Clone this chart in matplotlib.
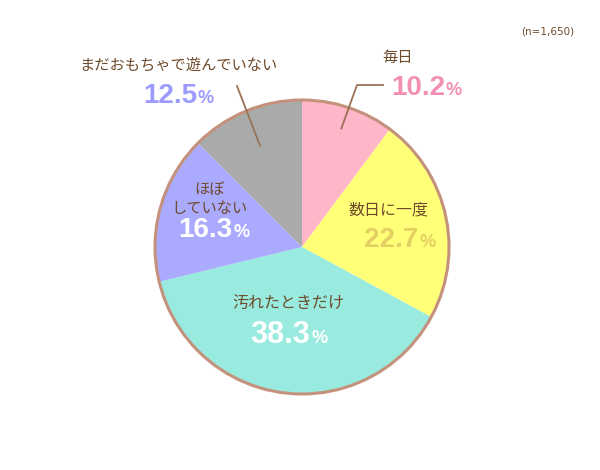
import numpy as np
import matplotlib.pyplot as plt

labels = ['毎日', '数日に一度', '汚れたときだけ', 'ほぼ\nしていない', 'まだおもちゃで遊んでいない']
values = [10.2, 22.7, 38.3, 16.3, 12.5]
colors = ['#ffb6c9', '#ffff78', '#98ebde', '#aaaaff', '#a9abaa']
pct_colors = ['#f28fb5', '#e3cf62', '#ffffff', '#ffffff', '#9c9cff']
note = '(n=1,650)'

JP = ['Noto Sans CJK JP', 'DejaVu Sans']
NUM = ['Liberation Sans', 'DejaVu Sans']
BROWN = '#6e4b2c'

fig = plt.figure(figsize=(6, 4.7), dpi=100)
ax = fig.add_axes([0, 0, 1, 1])

cx, cy, r = 302, 470 - 247, 147
ax.pie(values, colors=colors, startangle=90, counterclock=False,
       center=(cx, cy), radius=r, wedgeprops=dict(linewidth=0))
circle = plt.Circle((cx, cy), r, fill=False, ec='#c4927c', lw=2.2)
ax.add_patch(circle)

# pie() resets the limits, so set them afterwards
ax.set_xlim(0, 600)
ax.set_ylim(0, 470)
ax.set_aspect('equal')
ax.axis('off')

# label positions (pixel coords from top-left)
name_pos = [(398, 57), (388, 210), (288, 303), (209, 199), (178, 65)]
name_size = [11, 11.5, 11.5, 11, 11]
# right edge / baseline of the number
pct_pos = [(445, 95), (418, 247), (310, 343), (232, 237), (197, 103)]
pct_size = [20, 20, 22, 20, 20]

for i, v in enumerate(values):
    nx, ny = name_pos[i]
    ax.text(nx, 470 - ny, labels[i], family=JP, fontsize=name_size[i], color=BROWN,
            ha='center', va='center', linespacing=1.15)
    px, py = pct_pos[i]
    ax.text(px, 470 - py, f'{v}', fontsize=pct_size[i], fontweight='bold',
            color=pct_colors[i], ha='right', va='baseline', family=NUM)
    ax.text(px + 1, 470 - py, '%', fontsize=13, fontweight='bold',
            color=pct_colors[i], ha='left', va='baseline', family=NUM)

# leader lines for the two small slices
def edge_point(idx, rr):
    start = 90 - sum(values[:idx]) * 3.6
    mid = start - values[idx] * 3.6 / 2
    a = np.deg2rad(mid)
    return cx + rr * np.cos(a), cy + rr * np.sin(a)

x0, y0 = edge_point(0, 125)
ax.plot([x0, 357, 383], [y0, 470 - 85, 470 - 85], color='#9a7257', lw=1.3)
x1, y1 = edge_point(4, 110)
ax.plot([x1, 237], [y1, 470 - 86], color='#9a7257', lw=1.3)

ax.text(548, 470 - 31, note, fontsize=7.5, color=BROWN, ha='center', va='center')

fig.savefig('out.png', dpi=100)
